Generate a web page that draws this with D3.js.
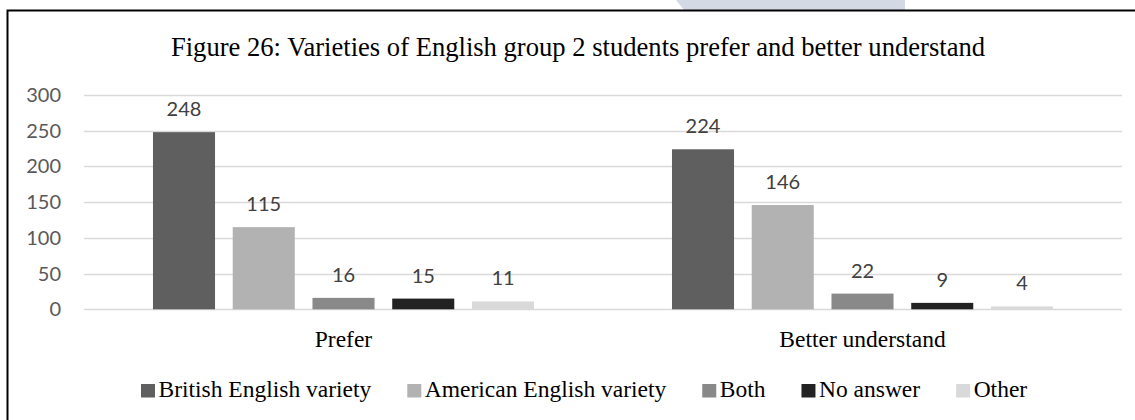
<!DOCTYPE html>
<html>
<head>
<meta charset="utf-8">
<script src="https://cdn.jsdelivr.net/npm/d3@7"></script>
<style>
  html, body { margin: 0; padding: 0; background: #fff; }
  svg { display: block; }
</style>
</head>
<body>
<svg id="chart" width="1135" height="420"></svg>
<script>
const title = "Figure 26: Varieties of English group 2 students prefer and better understand";
const categories = ["Prefer", "Better understand"];
const seriesNames = ["British English variety", "American English variety", "Both", "No answer", "Other"];
const seriesColors = ["#5f5f5f", "#b2b2b2", "#898989", "#222222", "#d9d9d9"];
const britishValues = [248, 224];
const americanValues = [115, 146];
const bothValues = [16, 22];
const noAnswerValues = [15, 9];
const otherValues = [11, 4];
const yTicks = [0, 50, 100, 150, 200, 250, 300];

const seriesValues = [britishValues, americanValues, bothValues, noAnswerValues, otherValues];

const svg = d3.select("#chart");
const serif = "'Liberation Serif', 'Times New Roman', serif";
const sans = "Lato, 'Open Sans', sans-serif";

// faint watermark remnant above the frame
svg.append("path")
  .attr("d", "M676,0 L905,0 L905,10 L684,10 Z")
  .attr("fill", "#d4d9e6");

// frame
svg.append("rect")
  .attr("x", 7.5).attr("y", 10.5)
  .attr("width", 1140).attr("height", 420)
  .attr("fill", "#fff").attr("stroke", "#000").attr("stroke-width", 2);

const y = d3.scaleLinear().domain([0, 300]).range([309.3, 95]);
const x0 = d3.scaleBand().domain(categories).range([84, 1122]).paddingInner(0).paddingOuter(0);
const x1 = d3.scaleBand().domain(seriesNames).range([0, x0.bandwidth()]).paddingInner(0.222).paddingOuter(0.865);

// gridlines
svg.append("g").selectAll("line").data(yTicks).join("line")
  .attr("x1", x0.range()[0]).attr("x2", x0.range()[1])
  .attr("y1", d => Math.round(y(d)) + 0.5).attr("y2", d => Math.round(y(d)) + 0.5)
  .attr("stroke", "#d9d9d9").attr("stroke-width", 1.5);

// y tick labels
svg.append("g").selectAll("text").data(yTicks).join("text")
  .attr("x", 61).attr("y", d => y(d))
  .attr("dy", "0.35em")
  .attr("text-anchor", "end")
  .attr("font-family", sans).attr("font-size", 20)
  .attr("fill", "#595959")
  .text(d => d);

// bars
const groups = svg.append("g").selectAll("g").data(categories).join("g")
  .attr("transform", c => `translate(${x0(c)},0)`);

groups.each(function(c, ci) {
  const g = d3.select(this);
  const data = seriesNames.map((s, si) => ({ s, si, v: seriesValues[si][ci] }));
  g.selectAll("rect").data(data).join("rect")
    .attr("x", d => x1(d.s))
    .attr("width", x1.bandwidth())
    .attr("y", d => y(d.v))
    .attr("height", d => y(0) - y(d.v))
    .attr("fill", d => seriesColors[d.si]);
  g.selectAll("text").data(data).join("text")
    .attr("x", d => x1(d.s) + x1.bandwidth() / 2)
    .attr("y", d => y(d.v) - 16)
    .attr("text-anchor", "middle")
    .attr("font-family", sans).attr("font-size", 20)
    .attr("fill", "#404040")
    .text(d => d.v);
});

// category labels
svg.append("g").selectAll("text").data(categories).join("text")
  .attr("x", c => x0(c) + x0.bandwidth() / 2)
  .attr("y", 347)
  .attr("text-anchor", "middle")
  .attr("font-family", serif).attr("font-size", 23.5)
  .attr("fill", "#000")
  .text(c => c);

// title
svg.append("text")
  .attr("x", 578).attr("y", 56)
  .attr("text-anchor", "middle")
  .attr("font-family", serif).attr("font-size", 26.6)
  .attr("fill", "#000")
  .text(title);

// legend
const legend = svg.append("g");
let lx = 141;
seriesNames.forEach((s, i) => {
  legend.append("rect")
    .attr("x", lx).attr("y", 384)
    .attr("width", 14).attr("height", 13.5)
    .attr("fill", seriesColors[i]);
  const t = legend.append("text")
    .attr("x", lx + 17.5).attr("y", 397)
    .attr("font-family", serif).attr("font-size", 23.5)
    .attr("fill", "#000")
    .text(s);
  lx += 17.5 + t.node().getComputedTextLength() + 36;
});
</script>
</body>
</html>
